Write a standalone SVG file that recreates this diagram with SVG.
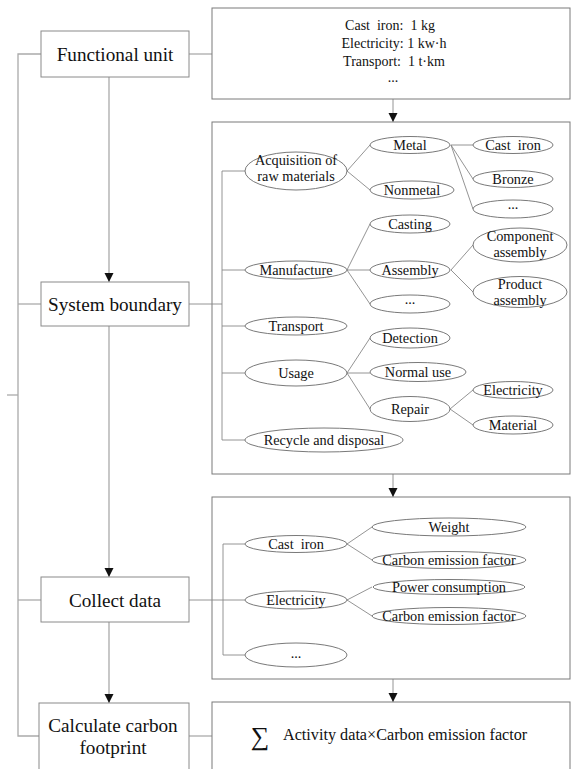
<svg xmlns="http://www.w3.org/2000/svg" width="571" height="769" viewBox="0 0 571 769">
<style>
.bg{fill:#fff}
.box{fill:#fff;stroke:#8a8a8a;stroke-width:1}
.panel{fill:#fff;stroke:#7a7a7a;stroke-width:1}
.el{fill:#fff;stroke:#6a6a6a;stroke-width:0.9}
.ln{fill:none;stroke:#888;stroke-width:0.9}
.lg{fill:none;stroke:#aaa;stroke-width:1.3}
.t{font-family:"Liberation Serif","Times New Roman",serif;fill:#111;text-anchor:middle}
.big{font-size:19.2px}
.sm{font-size:14.3px}
.xs{font-size:14px}
</style>
<defs>
<marker id="ah" viewBox="0 0 10 10" refX="10" refY="5" markerWidth="9" markerHeight="10" markerUnits="userSpaceOnUse" orient="auto">
<path d="M0,0 L10,5 L0,10 Z" fill="#111"/>
</marker>
</defs>
<rect class="bg" x="0" y="0" width="571" height="769"/>

<g id="connectors">
<polyline class="lg" points="41,54 18,54 18,736 39,736"/>
<line class="lg" x1="7" y1="395" x2="18" y2="395"/>
<line class="lg" x1="18" y1="304" x2="41" y2="304"/>
<line class="lg" x1="18" y1="600" x2="41" y2="600"/>
<line class="lg" x1="189" y1="54" x2="212" y2="54"/>
<line class="lg" x1="189" y1="736" x2="212" y2="736"/>
<line class="lg" x1="109" y1="77" x2="109" y2="282" marker-end="url(#ah)"/>
<line class="lg" x1="109" y1="326" x2="109" y2="577" marker-end="url(#ah)"/>
<line class="lg" x1="109" y1="622" x2="109" y2="703" marker-end="url(#ah)"/>
<line class="ln" x1="393" y1="99" x2="393" y2="122" marker-end="url(#ah)"/>
<line class="ln" x1="393" y1="474" x2="393" y2="497" marker-end="url(#ah)"/>
<line class="ln" x1="393" y1="679" x2="393" y2="702" marker-end="url(#ah)"/>
</g>

<g id="functional-unit"><rect class="box" x="41" y="31" width="148" height="46"/><text class="t big" x="115" y="60.5">Functional unit</text></g>
<g id="system-boundary"><rect class="box" x="41" y="282" width="148" height="44"/><text class="t big" x="115" y="310.5">System boundary</text></g>
<g id="collect-data"><rect class="box" x="41" y="577" width="148" height="45"/><text class="t big" x="115" y="606.5">Collect data</text></g>
<g id="calculate"><rect class="box" x="39" y="703" width="150" height="80"/><text class="t big" x="113" y="732">Calculate carbon</text><text class="t big" x="113" y="754">footprint</text></g>

<g id="fu-panel">
<rect class="panel" x="212" y="8" width="358" height="91"/>
<text class="t xs" x="390" y="30">Cast&#160; iron:&#160; 1 kg</text>
<text class="t xs" x="394" y="48">Electricity: 1 kw·h</text>
<text class="t xs" x="394" y="66">Transport:&#160; 1 t·km</text>
<text class="t xs" x="393" y="82">...</text>
</g>

<g id="sb-panel">
<rect class="panel" x="212" y="122" width="358" height="352"/>
<g id="sb-links">
<line class="ln" x1="189" y1="304" x2="222" y2="304"/>
<line class="ln" x1="222" y1="171" x2="222" y2="440"/>
<line class="ln" x1="222" y1="171" x2="245" y2="171"/>
<line class="ln" x1="222" y1="270" x2="245" y2="270"/>
<line class="ln" x1="222" y1="326" x2="245" y2="326"/>
<line class="ln" x1="222" y1="373" x2="245" y2="373"/>
<line class="ln" x1="222" y1="440" x2="245" y2="440"/>
<polyline class="ln" points="370,145 347,171 370,190"/>
<line class="ln" x1="451" y1="145" x2="473" y2="145"/>
<line class="ln" x1="451" y1="145" x2="473" y2="179"/>
<line class="ln" x1="451" y1="145" x2="473" y2="209"/>
<polyline class="ln" points="370,224 347,270 370,304"/>
<line class="ln" x1="347" y1="270" x2="370" y2="270"/>
<polyline class="ln" points="473,245 451,270 473,292"/>
<polyline class="ln" points="370,338 347,373 370,409"/>
<line class="ln" x1="347" y1="373" x2="370" y2="373"/>
<polyline class="ln" points="473,390 450,409 473,425"/>
</g>
<g id="acq"><ellipse class="el" cx="296" cy="171" rx="51" ry="19"/><text class="t sm" x="296" y="164.5">Acquisition of</text><text class="t sm" x="296" y="181">raw materials</text></g>
<g id="metal"><ellipse class="el" cx="410" cy="145" rx="40" ry="8.5"/><text class="t sm" x="410" y="150">Metal</text></g>
<g id="nonmetal"><ellipse class="el" cx="412" cy="190" rx="42" ry="9"/><text class="t sm" x="412" y="195">Nonmetal</text></g>
<g id="castiron"><ellipse class="el" cx="513" cy="145" rx="40" ry="8.5"/><text class="t sm" x="513" y="150">Cast&#160; iron</text></g>
<g id="bronze"><ellipse class="el" cx="513" cy="179" rx="40" ry="8.5"/><text class="t sm" x="513" y="184">Bronze</text></g>
<g id="metal-more"><ellipse class="el" cx="513" cy="209" rx="40" ry="9"/><text class="t sm" x="513" y="209">...</text></g>
<g id="manufacture"><ellipse class="el" cx="296" cy="270" rx="51" ry="9"/><text class="t sm" x="296" y="275">Manufacture</text></g>
<g id="casting"><ellipse class="el" cx="410" cy="224" rx="40" ry="9"/><text class="t sm" x="410" y="229">Casting</text></g>
<g id="assembly"><ellipse class="el" cx="410" cy="270" rx="40" ry="9"/><text class="t sm" x="410" y="275">Assembly</text></g>
<g id="manu-more"><ellipse class="el" cx="410" cy="304" rx="40" ry="9"/><text class="t sm" x="410" y="304">...</text></g>
<g id="component"><ellipse class="el" cx="520" cy="245" rx="47" ry="17"/><text class="t sm" x="520" y="241">Component</text><text class="t sm" x="520" y="257">assembly</text></g>
<g id="product"><ellipse class="el" cx="520" cy="292" rx="47" ry="15.5"/><text class="t sm" x="520" y="289">Product</text><text class="t sm" x="520" y="305">assembly</text></g>
<g id="transport"><ellipse class="el" cx="296" cy="326" rx="51" ry="9"/><text class="t sm" x="296" y="331">Transport</text></g>
<g id="usage"><ellipse class="el" cx="296" cy="373" rx="51" ry="13"/><text class="t sm" x="296" y="378">Usage</text></g>
<g id="detection"><ellipse class="el" cx="410" cy="338" rx="40" ry="10"/><text class="t sm" x="410" y="343">Detection</text></g>
<g id="normaluse"><ellipse class="el" cx="418" cy="372" rx="48" ry="9.5"/><text class="t sm" x="418" y="377">Normal use</text></g>
<g id="repair"><ellipse class="el" cx="410" cy="409" rx="40" ry="12.5"/><text class="t sm" x="410" y="414">Repair</text></g>
<g id="r-elec"><ellipse class="el" cx="513" cy="390" rx="40" ry="8.5"/><text class="t sm" x="513" y="395">Electricity</text></g>
<g id="r-mat"><ellipse class="el" cx="513" cy="425" rx="40" ry="9"/><text class="t sm" x="513" y="430">Material</text></g>
<g id="recycle"><ellipse class="el" cx="324" cy="440" rx="79" ry="12"/><text class="t sm" x="324" y="445">Recycle and disposal</text></g>
</g>

<g id="cd-panel">
<rect class="panel" x="212" y="497" width="358" height="182"/>
<g id="cd-links">
<line class="ln" x1="189" y1="600" x2="245" y2="600"/>
<line class="ln" x1="223" y1="544" x2="223" y2="655"/>
<line class="ln" x1="223" y1="544" x2="245" y2="544"/>
<line class="ln" x1="223" y1="655" x2="245" y2="655"/>
<polyline class="ln" points="372,527 347,544 372,560"/>
<polyline class="ln" points="372,587 347,600 372,616"/>
</g>
<g id="cd-castiron"><ellipse class="el" cx="296" cy="544" rx="51" ry="8.5"/><text class="t sm" x="296" y="549">Cast&#160; iron</text></g>
<g id="cd-weight"><ellipse class="el" cx="449" cy="527" rx="77" ry="9"/><text class="t sm" x="449" y="532">Weight</text></g>
<g id="cd-cef1"><ellipse class="el" cx="449" cy="560" rx="77" ry="8.5"/><text class="t sm" x="449" y="565">Carbon emission factor</text></g>
<g id="cd-elec"><ellipse class="el" cx="296" cy="600" rx="51" ry="9"/><text class="t sm" x="296" y="605">Electricity</text></g>
<g id="cd-power"><ellipse class="el" cx="449" cy="587" rx="76" ry="7.5"/><text class="t sm" x="449" y="592">Power consumption</text></g>
<g id="cd-cef2"><ellipse class="el" cx="449" cy="616" rx="77" ry="8.5"/><text class="t sm" x="449" y="621">Carbon emission factor</text></g>
<g id="cd-more"><ellipse class="el" cx="296" cy="655" rx="51" ry="12"/><text class="t sm" x="296" y="658">...</text></g>
</g>

<g id="calc-panel">
<rect class="panel" x="212" y="702" width="358" height="80"/>
<text class="t" x="260" y="745" style="font-size:26px">∑</text>
<text class="t" x="283" y="740" style="font-size:16.2px;text-anchor:start">Activity data×Carbon emission factor</text>
</g>
</svg>
